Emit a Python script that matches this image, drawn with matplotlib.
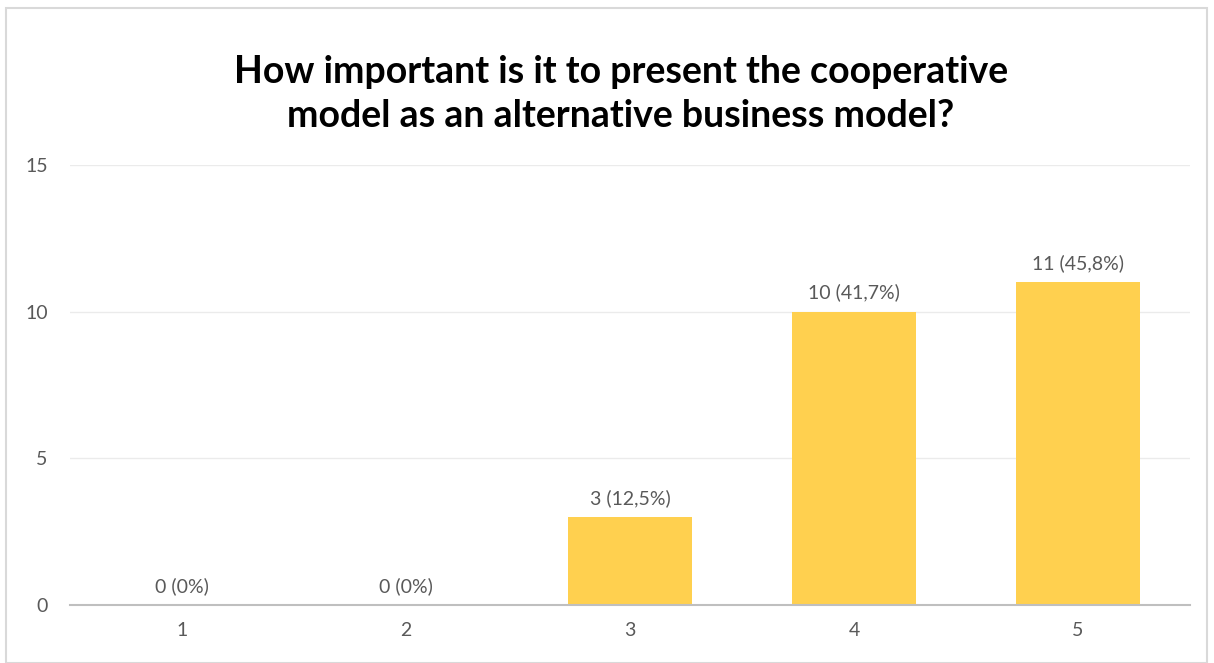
import matplotlib
matplotlib.use('agg')
from matplotlib import pyplot as plt
from matplotlib.patches import Rectangle

# survey answers (scale 1-5)
categories = ['1', '2', '3', '4', '5']
counts = [0, 0, 3, 10, 11]
labels = ['0 (0%)', '0 (0%)', '3 (12,5%)', '10 (41,7%)', '11 (45,8%)']
title = 'How important is it to present the cooperative\nmodel as an alternative business model?'

plt.rcParams['font.family'] = ['Lato', 'DejaVu Sans']

W, H = 1214, 663
fig = plt.figure(figsize=(W / 100, H / 100), dpi=100)
fig.patches.append(Rectangle((6 / W, 0), (1207 - 6) / W, (H - 8) / H, transform=fig.transFigure,
                             fill=False, edgecolor='#d9d9d9', linewidth=1.5))

ax = fig.add_axes([70 / W, 1 - 605 / H, (1190 - 70) / W, (605 - 165) / H])
x = range(len(categories))
ax.bar(x, counts, width=0.55, color='#ffd04f', zorder=3)
for xi, c, lab in zip(x, counts, labels):
    ax.text(xi, c + 0.35, lab, ha='center', va='bottom', fontsize=14, color='#595959')

ax.set_xlim(-0.5, len(categories) - 0.5)
ax.set_ylim(0, 15)
ax.set_yticks([0, 5, 10, 15])
ax.set_xticks(list(x))
ax.set_xticklabels(categories)
ax.grid(axis='y', color='#ebebeb', linewidth=1, zorder=0)
for s in ['top', 'right', 'left']:
    ax.spines[s].set_visible(False)
ax.spines['bottom'].set_color('#bfbfbf')
ax.spines['bottom'].set_linewidth(1.5)
ax.spines['bottom'].set_zorder(4)
ax.tick_params(length=0, labelsize=14, colors='#595959')
ax.tick_params(axis='y', pad=16)
ax.tick_params(axis='x', pad=12)

fig.text(621 / W, 1 - 94 / H, title, ha='center', va='center', fontsize=27, fontweight='bold',
         color='black', linespacing=1.35)

plt.savefig('out.png')
